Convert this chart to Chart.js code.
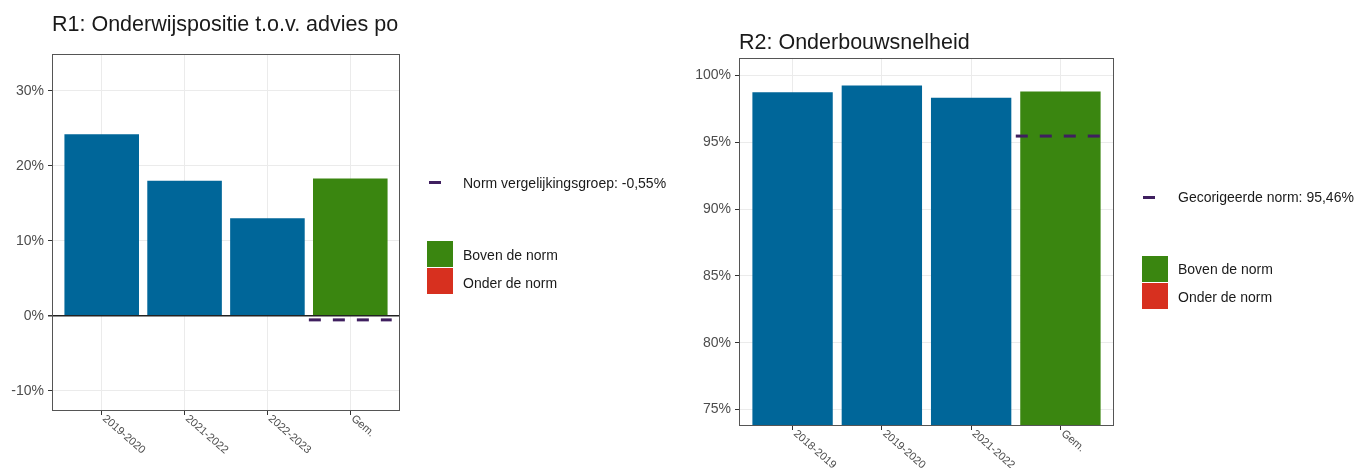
<!DOCTYPE html>
<html>
<head>
<meta charset="utf-8">
<script src="https://cdn.jsdelivr.net/npm/chart.js@4/dist/chart.umd.min.js"></script>
<style>
  body { margin: 0; background: #fff; font-family: "Liberation Sans", Arial, sans-serif; }
  .wrap { position: absolute; top: 0; height: 468px; }
  .legend { position: absolute; font-size: 14px; color: #1a1a1a; }
  .item { position: absolute; white-space: nowrap; }
  .dash { position: absolute; width: 12px; height: 3px; background: #3F1F5F; }
  .box { position: absolute; width: 26px; height: 26px; }
</style>
</head>
<body>
<div class="wrap" style="left:0;width:680px;"><canvas id="chartR1"></canvas></div>
<div class="wrap" style="left:680px;width:682px;"><canvas id="chartR2"></canvas></div>

<!-- legend R1 -->
<div class="legend" style="left:0;top:0;">
  <div class="dash" style="left:429px;top:181px;"></div>
  <div class="item" style="left:463px;top:175px;">Norm vergelijkingsgroep: -0,55%</div>
  <div class="box" style="left:427px;top:241px;background:#3A8610;"></div>
  <div class="item" style="left:463px;top:247px;">Boven de norm</div>
  <div class="box" style="left:427px;top:268px;background:#D7301F;"></div>
  <div class="item" style="left:463px;top:275px;">Onder de norm</div>
</div>
<!-- legend R2 -->
<div class="legend" style="left:0;top:0;">
  <div class="dash" style="left:1143px;top:196px;"></div>
  <div class="item" style="left:1178px;top:189px;">Gecorigeerde norm: 95,46%</div>
  <div class="box" style="left:1142px;top:256px;background:#3A8610;"></div>
  <div class="item" style="left:1178px;top:261px;">Boven de norm</div>
  <div class="box" style="left:1142px;top:283px;background:#D7301F;"></div>
  <div class="item" style="left:1178px;top:289px;">Onder de norm</div>
</div>

<script>
// R1: Onderwijspositie t.o.v. advies po
const r1Labels = ['2019-2020', '2021-2022', '2022-2023', 'Gem.'];
const r1Values = [24.2, 18.0, 13.0, 18.3];
const r1Norm = -0.55;
const r1Ticks = [-10, 0, 10, 20, 30];

// R2: Onderbouwsnelheid
const r2Labels = ['2018-2019', '2019-2020', '2021-2022', 'Gem.'];
const r2Values = [98.74, 99.24, 98.32, 98.79];
const r2Norm = 95.46;
const r2Ticks = [75, 80, 85, 90, 95, 100];

const BLUE = '#006699';
const GREEN = '#3A8610';
const RED = '#D7301F';
const NORM = '#3F1F5F';
const FONT = '"Liberation Sans", Arial, sans-serif';

Chart.defaults.font.family = FONT;
Chart.defaults.animation = false;

// panel border + rotated x labels like ggplot
const panelPlugin = {
    id: 'panel',
    afterDraw(chart) {
        const ctx = chart.ctx;
        const a = chart.chartArea;
        ctx.save();
        ctx.strokeStyle = '#555';
        ctx.lineWidth = 1;
        ctx.strokeRect(a.left + 0.5, a.top + 0.5, a.right - a.left - 1, a.bottom - a.top - 1);

        const x = chart.scales.x;
        const labels = chart.options.plugins.panel.labels;
        ctx.fillStyle = '#4d4d4d';
        ctx.font = '11px ' + FONT;
        ctx.textAlign = 'left';
        ctx.textBaseline = 'top';
        labels.forEach((lab, i) => {
            const px = x.getPixelForValue(i + 1);
            ctx.save();
            ctx.translate(px + 6, a.bottom + 2);
            ctx.rotate(0.72);
            ctx.fillText(lab, 0, 0);
            ctx.restore();
        });
        ctx.restore();
    }
};

function makeChart(id, cfg) {
    const barData = cfg.values.map((v, i) => ({ x: i + 1, y: v }));
    const last = cfg.values.length - 1;
    // Gem. bar is coloured by comparison to norm
    const colors = cfg.values.map((v, i) => i === last ? (v >= cfg.norm ? GREEN : RED) : BLUE);

    return new Chart(document.getElementById(id), {
        type: 'bar',
        data: {
            datasets: [
                {
                    type: 'bar',
                    data: barData,
                    backgroundColor: colors,
                    barPercentage: 0.9,
                    categoryPercentage: 1,
                    order: 2,
                },
                {
                    type: 'line',
                    data: [{ x: last + 0.5, y: cfg.norm }, { x: last + 1.5, y: cfg.norm }],
                    borderColor: NORM,
                    borderWidth: 3,
                    borderDash: [12, 12],
                    pointRadius: 0,
                    order: 1,
                },
            ],
        },
        options: {
            responsive: true,
            maintainAspectRatio: false,
            layout: { padding: cfg.padding },
            plugins: {
                legend: { display: false },
                tooltip: { enabled: false },
                title: {
                    display: true,
                    text: cfg.title,
                    align: 'start',
                    fullSize: false,
                    color: '#1a1a1a',
                    font: { size: 21.5, weight: 'normal' },
                    padding: cfg.titlePadding,
                },
                panel: { labels: cfg.labels },
            },
            scales: {
                x: {
                    type: 'linear',
                    offset: false,
                    min: 0.4,
                    max: cfg.labels.length + 0.6,
                    afterBuildTicks: s => { s.ticks = cfg.labels.map((l, i) => ({ value: i + 1 })); },
                    afterFit: s => { s.height = cfg.xHeight; },
                    ticks: { display: false },
                    grid: { offset: false, color: '#ebebeb', tickColor: '#333', tickLength: 4 },
                    border: { display: false },
                },
                y: {
                    min: cfg.yMin,
                    max: cfg.yMax,
                    afterBuildTicks: s => { s.ticks = cfg.ticks.map(v => ({ value: v })); },
                    afterFit: s => { s.width = cfg.yWidth; },
                    ticks: {
                        color: '#4d4d4d',
                        font: { size: 14 },
                        padding: 4,
                        callback: v => v + '%',
                    },
                    grid: {
                        color: c => (cfg.zeroLine && c.tick && c.tick.value === 0) ? '#222' : '#ebebeb',
                        lineWidth: c => (cfg.zeroLine && c.tick && c.tick.value === 0) ? 1.5 : 1,
                        tickColor: '#333',
                        tickLength: 4,
                    },
                    border: { display: false },
                },
            },
        },
        plugins: [panelPlugin],
    });
}

makeChart('chartR1', {
    title: 'R1: Onderwijspositie t.o.v. advies po',
    labels: r1Labels, values: r1Values, norm: r1Norm, ticks: r1Ticks,
    yMin: -12.7, yMax: 34.9, zeroLine: true,
    padding: { left: 0, right: 280, top: 0, bottom: 0 },
    titlePadding: { top: 12, bottom: 16.2 },
    yWidth: 52, xHeight: 57,
});

makeChart('chartR2', {
    title: 'R2: Onderbouwsnelheid',
    labels: r2Labels, values: r2Values, norm: r2Norm, ticks: r2Ticks,
    yMin: 73.77, yMax: 101.3, zeroLine: false,
    padding: { left: 0, right: 248, top: 0, bottom: 0 },
    titlePadding: { top: 30, bottom: 2.2 },
    yWidth: 59, xHeight: 42,
});
</script>
</body>
</html>
